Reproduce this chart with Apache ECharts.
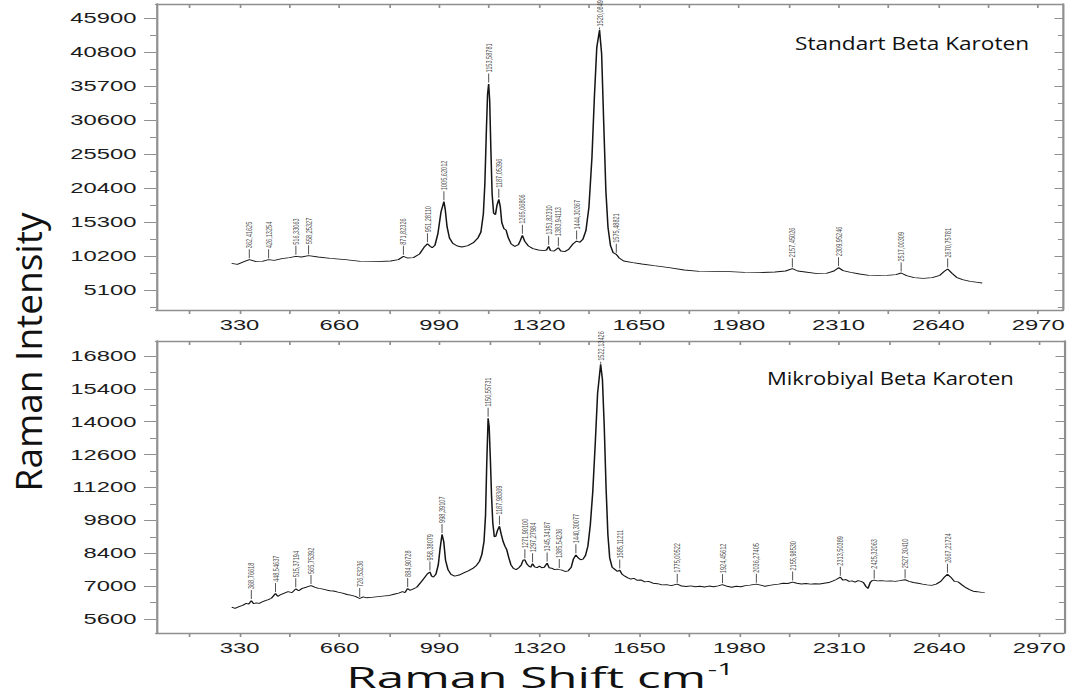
<!DOCTYPE html>
<html>
<head>
<meta charset="utf-8">
<script src="https://cdn.jsdelivr.net/npm/echarts@6/dist/echarts.min.js"></script>
<style>
  html, body { margin: 0; padding: 0; background: #fff; overflow: hidden; }
  #chart { height: 699px; transform-origin: 0 0; }
</style>
</head>
<body>
<div id="chart"></div>
<script>
// The figure is laid out narrow and stretched horizontally by SX.
const SX = 1.7;

// Raman shift axis (cm-1)
const X_MIN = 54, X_MAX = 3052;
const xTickLabels = [330, 660, 990, 1320, 1650, 1980, 2310, 2640, 2970];
const xMinorTicks = [165, 330, 495, 660, 825, 990, 1155, 1320, 1485, 1650, 1815, 1980, 2145, 2310, 2475, 2640, 2805, 2970];

// Intensity axes
const stdYRange = [2100, 48000];
const stdYTicks = [5100, 10200, 15300, 20400, 25500, 30600, 35700, 40800, 45900];
const stdYMinor = [2550, 7650, 12750, 17850, 22950, 28050, 33150, 38250, 43350];
const mikYRange = [5000, 17440];
const mikYTicks = [5600, 7000, 8400, 9800, 11200, 12600, 14000, 15400, 16800];
const mikYMinor = [6300, 7700, 9100, 10500, 11900, 13300, 14700, 16100];

// Standard beta-carotene spectrum [shift, intensity]
const stdSpectrum = [
  [304, 9100], [323, 8950], [345, 9350], [362.42, 9650], [385, 9350], [405, 9400], [426.13, 9650],
  [445, 9550], [470, 9800], [495, 9950], [516.33, 10150], [535, 10050], [558.25, 10250], [590, 10050],
  [630, 9850], [680, 9650], [730, 9400], [780, 9350], [830, 9450], [855, 9650], [871.82, 10150],
  [885, 9900], [905, 9950], [925, 10500], [940, 11500], [951.28, 12050], [960, 11650], [967, 11450],
  [976, 11800], [986, 13600], [996, 16800], [1005.62, 18350], [1010, 17200], [1016, 14600], [1024, 12900],
  [1035, 12100], [1050, 11700], [1065, 11550], [1085, 11750], [1103, 12200], [1118, 12900], [1128, 13800],
  [1136, 16500], [1141, 21000], [1146, 29000], [1150, 34500], [1153.59, 36000], [1157, 33500], [1161, 26000],
  [1165, 19500], [1170, 16600], [1176, 16400], [1181, 17800], [1187.05, 18700], [1192, 17600], [1197, 15200],
  [1204, 14300], [1211, 14100], [1218, 13000], [1228, 12000], [1240, 11650], [1252, 11900], [1258, 12500],
  [1265.07, 13300], [1273, 12400], [1285, 11700], [1300, 11300], [1318, 11100], [1335, 11000], [1345, 11100],
  [1351.82, 11650], [1358, 11000], [1370, 10950], [1383.94, 11450], [1392, 10950], [1405, 10850], [1418, 11200],
  [1432, 12000], [1444.30, 12450], [1455, 12250], [1465, 12700], [1475, 14000], [1485, 17500], [1495, 25000],
  [1503, 34000], [1511, 41500], [1520.08, 44100], [1527, 40500], [1534, 30000], [1541, 20000], [1548, 14500],
  [1556, 11800], [1565, 10700], [1575.49, 10450], [1585, 9900], [1600, 9450], [1630, 9200], [1660, 9000],
  [1700, 8750], [1750, 8450], [1800, 8100], [1850, 7900], [1900, 7850], [1950, 7850], [2000, 7750],
  [2050, 7700], [2100, 7800], [2135, 7950], [2157.45, 8300], [2175, 7950], [2200, 7800], [2240, 7550],
  [2270, 7600], [2295, 7950], [2309.95, 8450], [2325, 8000], [2350, 7750], [2380, 7500], [2410, 7300],
  [2440, 7250], [2470, 7300], [2500, 7400], [2517.00, 7650], [2535, 7250], [2560, 6950], [2590, 6850],
  [2620, 6950], [2645, 7300], [2660, 7900], [2670.76, 8250], [2685, 7600], [2700, 7000], [2720, 6650],
  [2745, 6400], [2770, 6250], [2785, 6150]
];
const stdPeakLabels = [
  '362,41625', '426,13254', '516,33063', '558,25327', '871,82326', '951,28110', '1005,62012',
  '1153,58781', '1187,05396', '1265,06806', '1351,82310', '1383,94113', '1444,30367', '1520,0849',
  '1575,48821', '2157,45026', '2309,95246', '2517,00309', '2670,75781'
];

// Microbial beta-carotene spectrum [shift, intensity]
const mikSpectrum = [
  [304, 6100], [315, 6050], [328, 6120], [340, 6180], [352, 6260], [360, 6230], [368.77, 6380], [376, 6250],
  [385, 6280], [395, 6260], [405, 6330], [415, 6380], [425, 6420], [435, 6480], [448.55, 6680], [456, 6560],
  [466, 6640], [478, 6700], [490, 6760], [503, 6720], [515.37, 6880], [525, 6800], [537, 6900], [550, 6950],
  [565.75, 7020], [578, 6950], [590, 6900], [602, 6880], [615, 6840], [628, 6800], [640, 6790], [655, 6740],
  [670, 6700], [685, 6640], [700, 6600], [712, 6560], [726.53, 6470], [738, 6540], [750, 6500], [765, 6520],
  [780, 6540], [795, 6560], [810, 6580], [825, 6600], [840, 6650], [855, 6700], [868, 6760], [876, 6720],
  [884.91, 6900], [892, 6820], [902, 6870], [915, 6950], [928, 7150], [940, 7350], [950, 7520], [958.38, 7600],
  [964, 7420], [970, 7380], [978, 7500], [986, 7900], [992, 8600], [998.39, 9200], [1004, 8900], [1010, 8100],
  [1018, 7700], [1028, 7500], [1040, 7420], [1055, 7470], [1070, 7560], [1085, 7650], [1100, 7750], [1112, 7880],
  [1122, 8050], [1130, 8350], [1137, 8900], [1142, 10000], [1146, 12200], [1150.56, 14150], [1154, 13800],
  [1158, 12400], [1162, 10800], [1166, 9700], [1171, 9100], [1176, 9120], [1181, 9350], [1187.98, 9550],
  [1194, 9200], [1200, 8900], [1206, 8700], [1212, 8550], [1219, 8200], [1226, 7900], [1234, 7750], [1243, 7700],
  [1252, 7780], [1260, 7900], [1266, 8100], [1271.90, 8120], [1278, 7950], [1285, 7850], [1291, 7800],
  [1297.28, 7950], [1304, 7820], [1312, 7780], [1320, 7850], [1328, 7780], [1336, 7800], [1345.34, 7980],
  [1352, 7780], [1360, 7760], [1370, 7700], [1378, 7720], [1385.54, 7700], [1395, 7680], [1405, 7620],
  [1415, 7650], [1425, 7800], [1432, 8150], [1440.30, 8330], [1448, 8200], [1456, 8120], [1464, 8150],
  [1472, 8300], [1480, 8700], [1488, 9600], [1496, 11000], [1504, 13000], [1512, 15200], [1522.13, 16450],
  [1528, 15800], [1534, 13800], [1540, 11200], [1546, 9200], [1552, 8200], [1560, 7800], [1570, 7700],
  [1578, 7620], [1585.11, 7680], [1593, 7500], [1602, 7420], [1612, 7350], [1622, 7300], [1632, 7330],
  [1642, 7250], [1655, 7260], [1668, 7180], [1680, 7200], [1695, 7120], [1710, 7100], [1725, 7050],
  [1740, 7060], [1755, 7020], [1775.00, 7080], [1790, 7000], [1805, 6980], [1820, 7010], [1835, 6970],
  [1850, 6990], [1865, 6960], [1880, 7000], [1895, 6970], [1910, 7010], [1924.46, 7060], [1940, 6990],
  [1955, 6950], [1970, 6990], [1985, 6970], [2000, 7020], [2015, 7040], [2036.27, 7080], [2050, 7040],
  [2065, 6990], [2080, 7030], [2095, 7060], [2110, 7080], [2125, 7120], [2140, 7110], [2155.99, 7170],
  [2170, 7120], [2185, 7090], [2200, 7110], [2215, 7080], [2230, 7100], [2245, 7090], [2260, 7120],
  [2275, 7150], [2290, 7220], [2300, 7280], [2313.50, 7380], [2322, 7250], [2332, 7280], [2342, 7200],
  [2352, 7220], [2362, 7170], [2372, 7230], [2382, 7200], [2390, 7150], [2398, 6980], [2405, 6900],
  [2412, 7150], [2418, 7230], [2425.32, 7250], [2435, 7220], [2450, 7230], [2465, 7210], [2480, 7220],
  [2495, 7200], [2510, 7230], [2527.30, 7270], [2540, 7200], [2555, 7150], [2570, 7120], [2585, 7080],
  [2600, 7050], [2615, 7030], [2630, 7080], [2645, 7200], [2655, 7350], [2667.22, 7500], [2678, 7380],
  [2690, 7200], [2702, 7180], [2715, 7050], [2728, 6930], [2740, 6850], [2752, 6780], [2765, 6760],
  [2780, 6730], [2790, 6720]
];
const mikPeakLabels = [
  '368,76618', '448,54637', '515,37194', '565,75392', '726,53236', '884,90728', '958,38079', '998,39107',
  '1150,55731', '1187,98369', '1271,90100', '1297,27984', '1345,34187', '1385,54236', '1440,30077',
  '1522,13426', '1585,11211', '1775,00522', '1924,45612', '2036,27405', '2155,98530', '2313,50389',
  '2425,32063', '2527,30410', '2667,21724'
];

const chartDom = document.getElementById('chart');
chartDom.style.width = (1073 / SX) + 'px';
chartDom.style.transform = 'scaleX(' + SX + ')';
const chart = echarts.init(chartDom, null, { renderer: 'svg' });

const hx = v => v / SX;          // horizontal screen pixels -> layout units
const FRAME = '#8f8f8f';
const TICK_FONT = { fontFamily: 'Liberation Sans', fontSize: 14, color: '#1c1c1c' };
const plain = v => String(v);

// Peak markers sit on the spectrum point nearest to the labelled shift;
// a marker close to the top of its panel gets a short leader.
function peakPoints(spectrum, labels, yMax) {
  return labels.map(lbl => {
    const x = parseFloat(lbl.replace(',', '.'));
    let best = spectrum[0];
    spectrum.forEach(p => { if (Math.abs(p[0] - x) < Math.abs(best[0] - x)) best = p; });
    const item = { name: lbl, value: [x, best[1]] };
    if (best[1] > yMax * 0.9) { item.symbolSize = [0.6, 2]; item.symbolOffset = [0, -1.5]; }
    return item;
  });
}

function xAxes(gi) {
  return [
    {
      type: 'value', gridIndex: gi, min: X_MIN, max: X_MAX, position: 'bottom',
      axisLine: { show: true, onZero: false, lineStyle: { color: FRAME, width: 1.3 } },
      axisTick: { show: true, inside: false, length: 4, customValues: xMinorTicks, lineStyle: { color: FRAME, width: 1 } },
      axisLabel: Object.assign({ show: true, margin: 8, customValues: xTickLabels, formatter: plain }, TICK_FONT),
      splitLine: { show: false }
    },
    {
      type: 'value', gridIndex: gi, min: X_MIN, max: X_MAX, position: 'top',
      axisLine: { show: true, onZero: false, lineStyle: { color: FRAME, width: 1.3 } },
      axisTick: { show: true, inside: true, length: 4, customValues: xMinorTicks, lineStyle: { color: FRAME, width: 1 } },
      axisLabel: { show: false },
      splitLine: { show: false }
    }
  ];
}

function yAxes(gi, range, ticks, minor) {
  const base = { type: 'value', gridIndex: gi, min: range[0], max: range[1], splitLine: { show: false } };
  return [
    Object.assign({}, base, {
      position: 'left',
      axisLine: { show: true, onZero: false, lineStyle: { color: FRAME, width: 1.3 } },
      axisTick: { show: true, inside: false, length: 7, customValues: ticks, lineStyle: { color: FRAME, width: 1 } },
      axisLabel: Object.assign({ show: true, margin: 11.5, customValues: ticks, formatter: plain }, TICK_FONT)
    }),
    Object.assign({}, base, {
      position: 'left',
      axisLine: { show: false },
      axisTick: { show: true, inside: false, length: 3.5, customValues: minor, lineStyle: { color: FRAME, width: 1 } },
      axisLabel: { show: false }
    }),
    Object.assign({}, base, {
      position: 'right',
      axisLine: { show: true, onZero: false, lineStyle: { color: FRAME, width: 1.3 } },
      axisTick: { show: true, inside: true, length: 5, customValues: ticks, lineStyle: { color: FRAME, width: 1 } },
      axisLabel: { show: false }
    }),
    Object.assign({}, base, {
      position: 'right',
      axisLine: { show: false },
      axisTick: { show: true, inside: true, length: 3, customValues: minor, lineStyle: { color: FRAME, width: 1 } },
      axisLabel: { show: false }
    })
  ];
}

function spectrumSeries(xi, yi, data) {
  return {
    type: 'line', xAxisIndex: xi, yAxisIndex: yi, data: data,
    symbol: 'none', silent: true, z: 3,
    lineStyle: { color: '#151515', width: 0.9 }
  };
}

function peakSeries(xi, yi, data) {
  return {
    type: 'scatter', xAxisIndex: xi, yAxisIndex: yi, data: data, silent: true, z: 4,
    symbol: 'rect', symbolSize: [0.6, 9], symbolOffset: [0, -6],
    itemStyle: { color: '#2a2a2a' },
    label: {
      show: true, position: 'top', distance: 1, rotate: 90, align: 'left', verticalAlign: 'middle',
      formatter: '{b}', fontFamily: 'Liberation Sans', fontSize: 5.6, color: '#161616'
    }
  };
}

const option = {
  animation: false,
  backgroundColor: '#ffffff',
  grid: [
    { left: hx(156), top: 4, width: hx(907), height: 306 },
    { left: hx(156), top: 341, width: hx(908), height: 292 }
  ],
  xAxis: xAxes(0).concat(xAxes(1)),
  yAxis: yAxes(0, stdYRange, stdYTicks, stdYMinor).concat(yAxes(1, mikYRange, mikYTicks, mikYMinor)),
  series: [
    spectrumSeries(0, 0, stdSpectrum),
    peakSeries(0, 0, peakPoints(stdSpectrum, stdPeakLabels, stdYRange[1])),
    spectrumSeries(2, 4, mikSpectrum),
    peakSeries(2, 4, peakPoints(mikSpectrum, mikPeakLabels, mikYRange[1]))
  ],
  graphic: [
    {
      type: 'text', x: hx(28), y: 352, rotation: Math.PI / 2, scaleY: 1 / SX, silent: true,
      style: {
        text: 'Raman Intensity', fontFamily: 'Open Sans', fontSize: 37, fill: '#111',
        align: 'center', verticalAlign: 'middle', textAlign: 'center', textVerticalAlign: 'middle'
      }
    },
    {
      type: 'text', x: hx(540), y: 677, silent: true,
      style: {
        text: '{main|Raman Shift cm}{sup|-1}',
        align: 'center', verticalAlign: 'middle', textAlign: 'center', textVerticalAlign: 'middle',
        rich: {
          main: { fontFamily: 'Open Sans', fontSize: 29, lineHeight: 36, fill: '#111' },
          sup: { fontFamily: 'Open Sans', fontSize: 17, lineHeight: 17, verticalAlign: 'top', fill: '#111', padding: [1, 0, 0, 1] }
        }
      }
    },
    {
      type: 'text', x: hx(795), y: 43, scaleX: 1.19 / SX, silent: true,
      style: {
        text: 'Standart Beta Karoten', fontFamily: 'Open Sans', fontSize: 19, fill: '#111',
        align: 'left', verticalAlign: 'middle', textAlign: 'left', textVerticalAlign: 'middle'
      }
    },
    {
      type: 'text', x: hx(767), y: 378, scaleX: 1.16 / SX, silent: true,
      style: {
        text: 'Mikrobiyal Beta Karoten', fontFamily: 'Open Sans', fontSize: 19, fill: '#111',
        align: 'left', verticalAlign: 'middle', textAlign: 'left', textVerticalAlign: 'middle'
      }
    }
  ]
};

chart.setOption(option);
</script>
</body>
</html>
